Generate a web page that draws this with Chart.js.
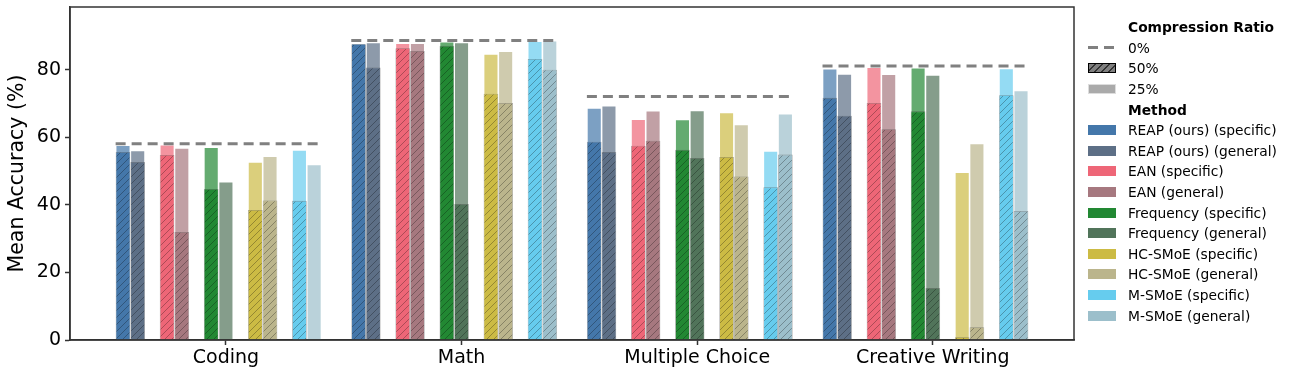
<!DOCTYPE html>
<html>
<head>
<meta charset="utf-8">
<script src="https://cdn.jsdelivr.net/npm/chart.js@4.4.0/dist/chart.umd.min.js"></script>
<style>
  body { margin: 0; background: #fff; }
  #wrap { position: relative; width: 1293px; height: 377px; }
  #legend { position: absolute; left: 1088px; top: 17px; font-family: 'DejaVu Sans', sans-serif; font-size: 13.8px; color: #000; }
  .row { height: 20.6px; display: flex; align-items: center; white-space: nowrap; }
  .sw { width: 28px; height: 10px; margin-right: 12px; box-sizing: border-box; flex: none; }
  .head { font-weight: bold; padding-left: 40px; }
</style>
</head>
<body>
<div id="wrap">
  <canvas id="chart" width="1293" height="377"></canvas>
  <div id="legend"></div>
</div>
<script>
// categories / methods
const categories = ['Coding', 'Math', 'Multiple Choice', 'Creative Writing'];
const methodNames = ['REAP (ours)', 'EAN', 'Frequency', 'HC-SMoE', 'M-SMoE'];
const yTicks = [0, 20, 40, 60, 80];

// 0% compression reference (dashed line)
const baseline0 = [58.1, 88.7, 72.1, 81.1];

// 25% / 50% compression, per method (specific / general)
const reapSpec25 = [57.7, 87.8, 68.7, 80.3];
const reapSpec50 = [55.7, 87.6, 58.7, 71.7];
const reapGen25 = [56.1, 88.1, 69.4, 78.8];
const reapGen50 = [52.7, 80.7, 55.7, 66.4];
const eanSpec25 = [57.8, 87.9, 65.4, 80.8];
const eanSpec50 = [54.8, 86.4, 57.5, 70.2];
const eanGen25 = [56.9, 87.9, 67.9, 78.7];
const eanGen50 = [32.0, 85.6, 59.0, 62.4];
const freqSpec25 = [57.1, 88.3, 65.3, 80.6];
const freqSpec50 = [44.7, 87.1, 56.3, 67.7];
const freqGen25 = [46.9, 88.1, 68.0, 78.5];
const freqGen50 = [0, 40.3, 53.9, 15.4];
const hcSpec25 = [52.7, 84.7, 67.4, 49.7];
const hcSpec50 = [38.5, 72.9, 54.2, 0.8];
const hcGen25 = [54.4, 85.5, 63.8, 58.2];
const hcGen50 = [41.3, 70.2, 48.4, 3.8];
const mSpec25 = [56.3, 88.5, 56.0, 80.4];
const mSpec50 = [41.2, 83.2, 45.2, 72.5];
const mGen25 = [52.0, 88.6, 67.0, 73.9];
const mGen50 = [0, 80.0, 54.9, 38.2];

const spec25 = [reapSpec25, eanSpec25, freqSpec25, hcSpec25, mSpec25];
const spec50 = [reapSpec50, eanSpec50, freqSpec50, hcSpec50, mSpec50];
const gen25 = [reapGen25, eanGen25, freqGen25, hcGen25, mGen25];
const gen50 = [reapGen50, eanGen50, freqGen50, hcGen50, mGen50];

// styles
const specColors = ['#4477AA', '#EE6677', '#228833', '#CCBB44', '#66CCEE'];
const genColors = ['#5d6f86', '#a6787f', '#51745a', '#bbb58c', '#9cbfcb'];

Chart.defaults.font.family = "'DejaVu Sans', sans-serif";

function rgba(hex, a) {
  const n = parseInt(hex.slice(1), 16);
  return 'rgba(' + (n >> 16) + ',' + ((n >> 8) & 255) + ',' + (n & 255) + ',' + a + ')';
}

function hatchFill(color) {
  const c = document.createElement('canvas');
  c.width = 7; c.height = 7;
  const g = c.getContext('2d');
  g.fillStyle = color;
  g.fillRect(0, 0, 7, 7);
  g.strokeStyle = 'rgba(0,0,0,0.35)';
  g.lineWidth = 0.8;
  g.beginPath();
  g.moveTo(-1, 8); g.lineTo(8, -1);
  g.moveTo(-1, 1); g.lineTo(1, -1);
  g.moveTo(6, 8); g.lineTo(8, 6);
  g.stroke();
  return g.createPattern(c, 'repeat');
}

// group layout: 15 slots per category (spec, gen, gap) x 5
const catPct = 0.936;
const slot = catPct / 15;
const groupStart = -catPct / 2;
const groupEnd = groupStart + 14 * slot;
const margin = 0.05 * (categories.length - 1 + groupEnd - groupStart);
const xMin = groupStart - margin;
const xMax = categories.length - 1 + groupEnd + margin;

const toPoints = arr => arr.map((v, i) => ({ x: i, y: v }));

const datasets = [];
methodNames.forEach((name, k) => {
  [['specific', spec25, spec50, specColors], ['general', gen25, gen50, genColors]].forEach(([kind, v25, v50, cols]) => {
    const stack = 'm' + k + kind;
    datasets.push({
      type: 'bar', label: name + ' (' + kind + ') 50%', data: toPoints(v50[k]), stack, order: 1,
      backgroundColor: hatchFill(cols[k]), borderColor: 'rgba(30,30,30,0.35)', borderWidth: 0.8
    });
    datasets.push({
      type: 'bar', label: name + ' (' + kind + ') 25%', data: toPoints(v25[k]), stack, order: 2,
      backgroundColor: rgba(cols[k], 0.7), borderColor: 'rgba(255,255,255,0.4)', borderWidth: 0.8
    });
  });
  // empty slot between methods
  datasets.push({ type: 'bar', label: 'gap' + k, data: [], stack: 'gap' + k, order: 1 });
});

categories.forEach((c, i) => {
  datasets.push({
    type: 'line', label: '0% ' + c, order: 0,
    data: [{ x: i + groupStart, y: baseline0[i] }, { x: i + groupEnd, y: baseline0[i] }],
    borderColor: '#808080', borderWidth: 3, borderDash: [10, 6], pointRadius: 0, fill: false
  });
});

const framePlugin = {
  id: 'frame',
  afterDraw(chart) {
    const { ctx, chartArea: a } = chart;
    ctx.save();
    ctx.strokeStyle = '#333';
    ctx.lineWidth = 1.5;
    ctx.strokeRect(a.left, a.top, a.right - a.left, a.bottom - a.top);
    ctx.restore();
  }
};

new Chart(document.getElementById('chart'), {
  type: 'bar',
  data: { datasets },
  options: {
    responsive: false,
    animation: false,
    layout: { padding: { left: 0, top: 7, right: 219, bottom: 0 } },
    datasets: { bar: { categoryPercentage: catPct, barPercentage: 1, grouped: true } },
    plugins: { legend: { display: false }, tooltip: { enabled: false } },
    scales: {
      x: {
        type: 'linear', min: xMin, max: xMax, offset: false, stacked: true,
        afterBuildTicks: s => { s.ticks = categories.map((c, i) => ({ value: i })); },
        ticks: { callback: v => categories[v], font: { size: 19 }, color: '#000', padding: 2, maxRotation: 0, autoSkip: false },
        grid: { display: true, drawOnChartArea: false, drawTicks: true, tickLength: 5, tickColor: '#333', tickWidth: 1.5, offset: false },
        border: { display: true, color: '#333', width: 1.5 },
        afterFit: s => { s.height = 37; }
      },
      y: {
        min: 0, max: 98.6, stacked: false,
        afterBuildTicks: s => { s.ticks = yTicks.map(v => ({ value: v })); },
        ticks: { font: { size: 19 }, color: '#000', padding: 4 },
        grid: { display: true, drawOnChartArea: false, tickLength: 5, tickColor: '#333', tickWidth: 1.5 },
        border: { display: true, color: '#333', width: 1.5 },
        title: { display: true, text: 'Mean Accuracy (%)', font: { size: 20.5 }, color: '#000', padding: { top: 5, bottom: 0 } },
        afterFit: s => { s.width = 70; s.paddingTop = 0; s.paddingBottom = 0; }
      }
    }
  },
  plugins: [framePlugin]
});

// legend
const legend = document.getElementById('legend');
function addRow(swatchCss, text, head) {
  const row = document.createElement('div');
  row.className = 'row';
  if (head) {
    row.innerHTML = '<span class="head">' + text + '</span>';
  } else {
    row.innerHTML = '<div class="sw" style="' + swatchCss + '"></div><span>' + text + '</span>';
  }
  legend.appendChild(row);
}
addRow('', 'Compression Ratio', true);
addRow('height:3px;background:repeating-linear-gradient(to right,#808080 0 10px,transparent 10px 16px);', '0%');
addRow('border:1.2px solid #000;background:repeating-linear-gradient(135deg,#7f7f7f 0 4px,#333 4px 5px);', '50%');
addRow('border:1px solid #ddd;background:#aaaaaa;', '25%');
addRow('', 'Method', true);
methodNames.forEach((name, k) => {
  addRow('background:' + specColors[k] + ';border:1px solid ' + rgba(specColors[k], 0.5) + ';', name + ' (specific)');
  addRow('background:' + genColors[k] + ';border:1px solid ' + rgba(genColors[k], 0.5) + ';', name + ' (general)');
});
</script>
</body>
</html>
